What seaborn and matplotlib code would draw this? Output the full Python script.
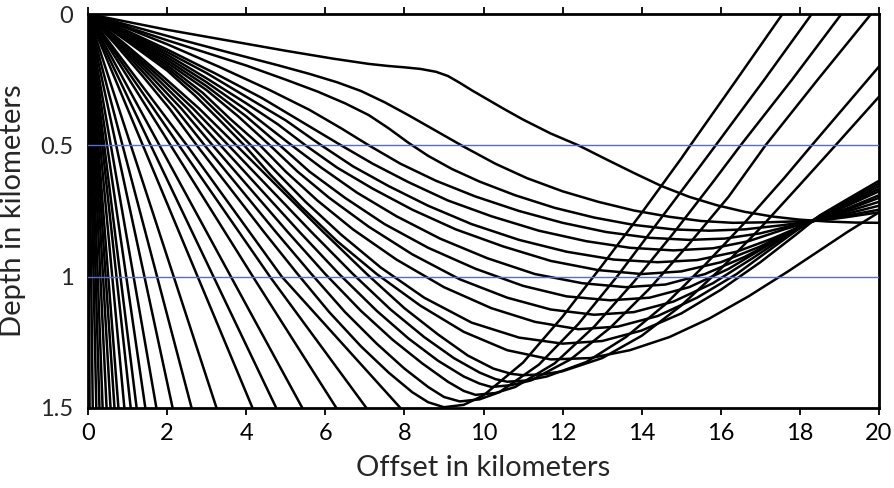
import matplotlib
matplotlib.use("Agg")
import matplotlib.pyplot as plt
import pandas as pd
import seaborn as sns

# ---------------- data (offset km, depth km) ----------------
# shallowest ray (S-shaped)
S_X = [0, 1, 2, 3.5, 5, 6.2, 7.1, 7.6, 8.0, 8.4, 8.8, 9.1, 9.4, 9.7, 10.1, 10.5, 11.0, 11.7, 12.4, 13.1, 13.8, 14.5, 15.2, 15.9, 16.6, 17.3, 18.0, 18.7, 19.4, 20]
S_Z = [0, 0.03, 0.06, 0.1, 0.14, 0.17, 0.19, 0.198, 0.203, 0.209, 0.22, 0.236, 0.262, 0.29, 0.325, 0.36, 0.402, 0.455, 0.5, 0.553, 0.605, 0.655, 0.696, 0.728, 0.753, 0.771, 0.783, 0.79, 0.794, 0.795]

# rays turning between 0.8 and 1.3 km and reaching the right edge
U_X = [
    [0, 1.2, 2.4, 3.6, 4.8, 5.6, 6.3, 6.9, 7.5, 8.1, 8.8, 9.5, 10.3, 11.1, 12.0, 12.9, 13.8, 14.7, 15.5, 16.3, 17.2, 18.0, 18.5, 19.2, 20],
    [0, 1, 2, 3, 4, 5, 5.8, 6.5, 7.1, 7.6, 8.1, 8.6, 9.2, 9.9, 10.8, 11.8, 12.8, 13.8, 14.8, 15.7, 16.6, 17.5, 18.5, 19.2, 20],
    [0, 1, 2, 3.3, 4.6, 5.6, 6.4, 7.1, 7.9, 8.8, 9.8, 10.9, 12.0, 13.1, 14.2, 15.2, 16.1, 17.0, 17.8, 18.5, 19.2, 20],
    [0, 1, 2, 3.2, 4.4, 5.4, 6.4, 7.2, 8.1, 9.1, 10.2, 11.4, 12.6, 13.7, 14.8, 15.8, 16.7, 17.6, 18.5, 19.2, 20],
    [0, 1, 2, 3, 4, 5, 5.9, 6.7, 7.6, 8.6, 9.7, 10.9, 12.1, 13.3, 14.4, 15.4, 16.4, 17.3, 18.0, 18.5, 19.2, 20],
    [0, 1, 2, 3, 4, 4.8, 5.5, 6.3, 7.2, 8.2, 9.3, 10.5, 11.7, 12.9, 14.0, 15.0, 16.0, 17.0, 17.8, 18.5, 19.2, 20],
    [0, 1, 2, 3, 4, 5.15, 5.9, 6.8, 7.8, 8.9, 10.1, 11.3, 12.5, 13.6, 14.6, 15.6, 16.6, 17.6, 18.5, 19.2, 20],
    [0, 1, 2, 3, 4, 4.85, 5.6, 6.5, 7.5, 8.6, 9.8, 11.0, 12.1, 13.2, 14.2, 15.2, 16.2, 17.2, 18.0, 18.5, 19.2, 20],
    [0, 1, 2, 3, 3.8, 4.6, 5.3, 6.1, 7.1, 8.2, 9.4, 10.6, 11.7, 12.8, 13.8, 14.8, 15.8, 16.8, 17.7, 18.5, 19.2, 20],
    [0, 1, 2, 2.9, 3.6, 4.35, 5.0, 5.8, 6.7, 7.8, 9.0, 10.2, 11.3, 12.4, 13.4, 14.4, 15.4, 16.4, 17.4, 18.0, 18.5, 19.2, 20],
    [0, 1, 2, 2.8, 3.45, 4.12, 4.75, 5.5, 6.4, 7.4, 8.5, 9.7, 10.9, 12.0, 13.0, 14.0, 15.0, 16.0, 17.0, 17.9, 18.5, 19.2, 20],
    [0, 1, 2, 2.7, 3.3, 3.95, 4.6, 5.4, 6.3, 7.3, 8.4, 9.5, 10.6, 11.7, 12.7, 13.7, 14.7, 15.7, 16.7, 17.7, 18.5, 19.2, 20],
]
U_Z = [
    [0, 0.05, 0.1, 0.148, 0.195, 0.228, 0.26, 0.293, 0.336, 0.385, 0.445, 0.505, 0.57, 0.625, 0.675, 0.715, 0.748, 0.772, 0.788, 0.795, 0.793, 0.789, 0.787, 0.773, 0.755],
    [0, 0.05, 0.1, 0.148, 0.196, 0.25, 0.295, 0.34, 0.385, 0.435, 0.49, 0.54, 0.59, 0.638, 0.69, 0.738, 0.775, 0.803, 0.82, 0.825, 0.82, 0.805, 0.785, 0.767, 0.745],
    [0, 0.055, 0.115, 0.2, 0.29, 0.365, 0.435, 0.5, 0.57, 0.635, 0.695, 0.75, 0.795, 0.83, 0.852, 0.86, 0.855, 0.835, 0.805, 0.783, 0.76, 0.73],
    [0, 0.065, 0.135, 0.225, 0.32, 0.41, 0.5, 0.57, 0.64, 0.71, 0.77, 0.825, 0.865, 0.89, 0.9, 0.892, 0.865, 0.82, 0.781, 0.752, 0.715],
    [0, 0.07, 0.145, 0.225, 0.315, 0.405, 0.5, 0.58, 0.655, 0.73, 0.8, 0.86, 0.905, 0.935, 0.945, 0.937, 0.905, 0.855, 0.81, 0.779, 0.745, 0.70],
    [0, 0.075, 0.155, 0.245, 0.34, 0.42, 0.5, 0.585, 0.665, 0.745, 0.82, 0.885, 0.94, 0.975, 0.99, 0.98, 0.945, 0.885, 0.825, 0.777, 0.74, 0.69],
    [0, 0.08, 0.165, 0.26, 0.365, 0.5, 0.585, 0.68, 0.77, 0.855, 0.93, 0.99, 1.025, 1.04, 1.03, 0.99, 0.925, 0.845, 0.775, 0.73, 0.675],
    [0, 0.085, 0.175, 0.275, 0.39, 0.5, 0.6, 0.7, 0.8, 0.89, 0.97, 1.035, 1.075, 1.09, 1.08, 1.04, 0.97, 0.88, 0.81, 0.773, 0.725, 0.665],
    [0, 0.09, 0.185, 0.29, 0.39, 0.5, 0.6, 0.7, 0.81, 0.915, 1.01, 1.08, 1.125, 1.145, 1.135, 1.095, 1.025, 0.93, 0.84, 0.771, 0.718, 0.655],
    [0, 0.095, 0.195, 0.3, 0.4, 0.5, 0.6, 0.71, 0.82, 0.935, 1.04, 1.12, 1.172, 1.2, 1.19, 1.15, 1.08, 0.99, 0.88, 0.815, 0.769, 0.712, 0.645],
    [0, 0.1, 0.205, 0.305, 0.4, 0.5, 0.6, 0.715, 0.84, 0.965, 1.08, 1.175, 1.232, 1.255, 1.245, 1.205, 1.14, 1.05, 0.945, 0.84, 0.767, 0.705, 0.635],
    [0, 0.105, 0.215, 0.31, 0.4, 0.5, 0.61, 0.735, 0.865, 0.99, 1.11, 1.21, 1.28, 1.315, 1.31, 1.28, 1.23, 1.16, 1.075, 0.98, 0.9, 0.83, 0.755],
]

# deep-turning rays that climb steeply back to the surface / right edge
X_X = [
    [0, 0.69, 1.375, 2.06, 2.75, 3.6, 4.45, 5.3, 6.1, 6.9, 7.6, 8.2, 8.6, 9.0, 9.5, 10.0, 11.0, 12.0, 13.0, 14.0, 15.0, 15.23, 16.4, 17.56],
    [0, 0.74, 1.475, 2.21, 2.95, 3.85, 4.75, 5.65, 6.5, 7.3, 8.0, 8.6, 9.0, 9.4, 9.9, 10.4, 11.4, 12.4, 13.4, 14.4, 15.4, 15.87, 17.1, 18.3],
    [0, 0.79, 1.575, 2.36, 3.15, 4.1, 5.05, 6.0, 6.9, 7.7, 8.45, 9.1, 9.5, 9.8, 10.3, 10.8, 11.8, 12.8, 13.8, 14.8, 15.8, 16.5, 17.8, 19.05],
    [0, 0.84, 1.675, 2.51, 3.35, 4.35, 5.35, 6.35, 7.3, 8.1, 8.85, 9.5, 9.9, 10.2, 10.7, 11.2, 12.2, 13.2, 14.2, 15.2, 16.2, 17.13, 18.45, 19.8],
    [0, 0.89, 1.775, 2.66, 3.55, 4.6, 5.65, 6.7, 7.65, 8.5, 9.25, 9.9, 10.3, 10.6, 11.1, 11.6, 12.6, 13.6, 14.6, 15.6, 16.6, 17.6, 18.3, 19.15, 20],
    [0, 0.94, 1.875, 2.81, 3.75, 4.85, 5.95, 7.05, 8.0, 8.85, 9.6, 10.25, 10.7, 11.0, 11.5, 12.0, 13.0, 14.0, 15.0, 16.0, 17.0, 18.0, 18.9, 20],
]
X_Z = [
    [0, 0.115, 0.235, 0.36, 0.5, 0.665, 0.83, 0.99, 1.135, 1.265, 1.365, 1.44, 1.478, 1.497, 1.488, 1.452, 1.327, 1.152, 0.957, 0.757, 0.55, 0.5, 0.25, 0],
    [0, 0.115, 0.235, 0.36, 0.5, 0.665, 0.83, 0.99, 1.135, 1.255, 1.35, 1.42, 1.458, 1.475, 1.467, 1.44, 1.335, 1.18, 0.995, 0.795, 0.595, 0.5, 0.25, 0],
    [0, 0.115, 0.235, 0.36, 0.5, 0.665, 0.83, 0.99, 1.13, 1.24, 1.33, 1.4, 1.435, 1.45, 1.443, 1.42, 1.33, 1.19, 1.02, 0.835, 0.64, 0.5, 0.25, 0],
    [0, 0.115, 0.235, 0.36, 0.5, 0.665, 0.83, 0.99, 1.13, 1.235, 1.32, 1.38, 1.407, 1.42, 1.413, 1.395, 1.315, 1.195, 1.045, 0.875, 0.695, 0.5, 0.25, 0],
    [0, 0.115, 0.235, 0.36, 0.5, 0.665, 0.83, 0.99, 1.125, 1.23, 1.31, 1.365, 1.39, 1.4, 1.395, 1.38, 1.325, 1.23, 1.105, 0.955, 0.795, 0.625, 0.5, 0.35, 0.2],
    [0, 0.115, 0.235, 0.36, 0.5, 0.665, 0.83, 0.99, 1.12, 1.22, 1.3, 1.35, 1.37, 1.375, 1.372, 1.36, 1.31, 1.225, 1.11, 0.97, 0.815, 0.65, 0.5, 0.315],
]

# steep rays that reach the 1.5 km bottom: offset at depth 0.5, 1.0 and 1.5
C_X05 = [0.013, 0.04, 0.07, 0.097, 0.123, 0.157, 0.19, 0.223, 0.257, 0.307, 0.36, 0.41, 0.483, 0.577, 0.713, 0.873, 1.083, 1.387, 1.587, 1.807, 2.09, 2.3, 2.5]
C_X10 = [0.027, 0.08, 0.14, 0.193, 0.247, 0.313, 0.38, 0.447, 0.513, 0.613, 0.72, 0.82, 0.967, 1.153, 1.427, 1.747, 2.167, 2.773, 3.173, 3.613, 4.17, 4.6, 4.9]
C_BOTTOM = [0.04, 0.12, 0.21, 0.29, 0.37, 0.47, 0.57, 0.67, 0.77, 0.92, 1.08, 1.23, 1.45, 1.73, 2.14, 2.62, 3.25, 4.16, 4.76, 5.42, 6.28, 7.04, 7.9]
C_DEPTHS = [0, 0.5, 1.0, 1.5]

REF_DEPTHS = [0.5, 1.0]
X_TICKS = [0, 2, 4, 6, 8, 10, 12, 14, 16, 18, 20]
Y_TICKS = [0, 0.5, 1, 1.5]
Y_LABELS = ["0", "0.5", "1", "1.5"]

# ---------------- build long table ----------------
frames = []
def add_ray(name, xs, zs):
    frames.append(pd.DataFrame({"offset": xs, "depth": zs, "ray": name}))

add_ray("S", S_X, S_Z)
for i, (xs, zs) in enumerate(zip(U_X, U_Z)):
    add_ray(f"U{i}", xs, zs)
for i, (xs, zs) in enumerate(zip(X_X, X_Z)):
    add_ray(f"X{i}", xs, zs)
for i in range(len(C_BOTTOM)):
    add_ray(f"C{i}", [0, C_X05[i], C_X10[i], C_BOTTOM[i]], C_DEPTHS)
df = pd.concat(frames, ignore_index=True)

# ---------------- plot ----------------
sns.set_style("white")
plt.rcParams["font.family"] = ["Lato", "DejaVu Sans"]

fig = plt.figure(figsize=(8.94, 4.88), dpi=100)
ax = fig.add_axes([88 / 894, 1 - 408 / 488, (879 - 88) / 894, (408 - 14) / 488])

sns.lineplot(data=df, x="offset", y="depth", units="ray", estimator=None, sort=False,
             color="black", linewidth=1.8, ax=ax, legend=False)
for d in REF_DEPTHS:
    ax.axhline(d, color="#5a6acf", linewidth=1.0, zorder=3)

ax.set_xlim(0, 20)
ax.set_ylim(1.5, 0)
ax.set_xticks(X_TICKS)
ax.set_yticks(Y_TICKS, labels=Y_LABELS)
ax.tick_params(axis="x", bottom=True, top=True, direction="out", length=5, width=1.3,
               labelsize=17, pad=6, colors="black")
ax.tick_params(axis="y", left=False, labelsize=17, pad=7)
for sp in ax.spines.values():
    sp.set_linewidth(2.0)
    sp.set_color("black")
ax.set_xlabel("Offset in kilometers", fontsize=21, labelpad=8)
ax.set_ylabel("Depth in kilometers", fontsize=21, labelpad=10)

fig.savefig("out.png", dpi=100)
